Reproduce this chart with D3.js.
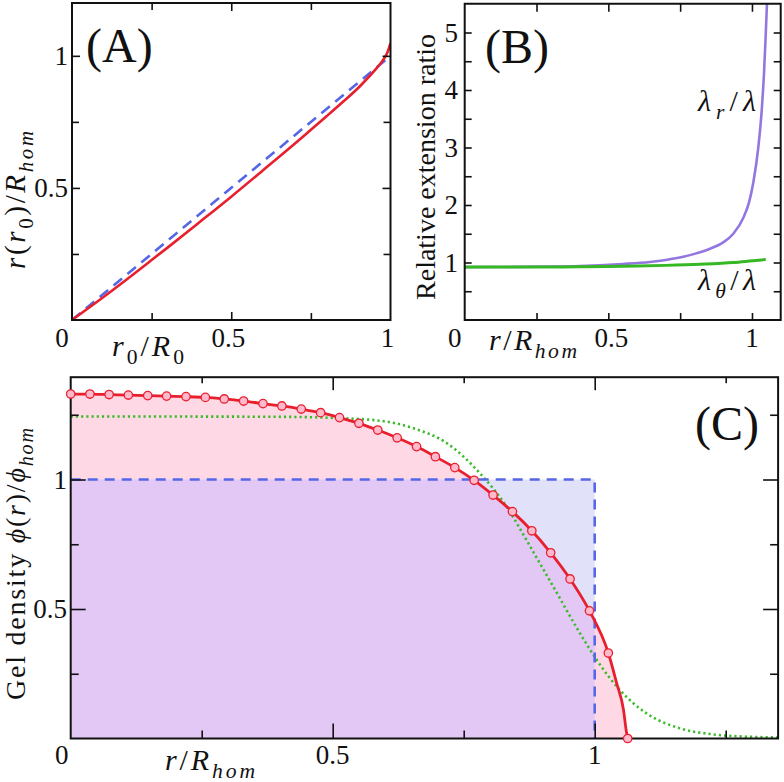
<!DOCTYPE html>
<html><head><meta charset="utf-8">
<script src="https://cdn.jsdelivr.net/npm/d3@7/dist/d3.min.js"></script>
</head><body style="margin:0">
<svg id="c" width="784" height="782"></svg>
<script>
// ---------- DATA ----------
// Panel A: r(r0)/R_hom vs r0/R0
const aRedX = [0, 0.1, 0.2, 0.25, 0.3, 0.4, 0.5, 0.6, 0.7, 0.75, 0.8, 0.85, 0.9, 0.93, 0.96, 0.98, 0.99, 1.0];
const aRedY = [0, 0.088, 0.18, 0.227, 0.274, 0.37, 0.467, 0.567, 0.668, 0.72, 0.772, 0.825, 0.88, 0.918, 0.958, 0.99, 1.012, 1.048];
const aBlueX = [0, 0.985];
const aBlueY = [0, 0.985];
const aXTicks = [0, 0.5, 1], aXMinor = [0.25, 0.75];
const aYTicks = [0.5, 1], aYMinor = [0.25, 0.75];

// Panel B: relative extension ratios
const bRadX = [0, 0.1, 0.2, 0.3, 0.4, 0.47, 0.55, 0.645, 0.7, 0.761, 0.8, 0.854, 0.9, 0.935, 0.97, 0.99, 1.005, 1.022, 1.034, 1.042, 1.048, 1.053];
const bRadY = [0.92, 0.921, 0.924, 0.93, 0.94, 0.953, 0.975, 1.01, 1.045, 1.10, 1.15, 1.24, 1.35, 1.50, 1.78, 2.05, 2.40, 3.00, 3.65, 4.30, 4.98, 5.6];
const bThX = [0, 0.2, 0.4, 0.5, 0.6, 0.7, 0.82, 0.935, 1.0, 1.048];
const bThY = [0.92, 0.92, 0.925, 0.93, 0.938, 0.95, 0.97, 1.0, 1.03, 1.052];
const bXTicks = [0, 0.5, 1], bXMinor = [0.25, 0.75];
const bYTicks = [1, 2, 3, 4, 5], bYMinor = [0.5, 1.5, 2.5, 3.5, 4.5];

// Panel C: gel density
const cMarkX = [0, 0.0367, 0.0733, 0.110, 0.147, 0.183, 0.220, 0.257, 0.293, 0.330, 0.367, 0.403, 0.440, 0.477, 0.513, 0.550, 0.586, 0.623, 0.660, 0.696, 0.733, 0.770, 0.806, 0.843, 0.880, 0.916, 0.953, 0.990, 1.026, 1.063];
const cMarkY = [1.330, 1.330, 1.328, 1.326, 1.324, 1.322, 1.320, 1.317, 1.311, 1.303, 1.293, 1.284, 1.272, 1.258, 1.239, 1.217, 1.191, 1.161, 1.127, 1.088, 1.046, 0.997, 0.940, 0.876, 0.802, 0.717, 0.616, 0.493, 0.330, 0.0];
const cTailX = [1.042, 1.055, 1.060];   // extra points of the red curve near its end
const cTailY = [0.213, 0.110, 0.033];
const cGreenX = [0, 0.2, 0.4, 0.5, 0.59, 0.654, 0.718, 0.781, 0.832, 0.877, 0.921, 0.972, 1.004, 1.048, 1.099, 1.163, 1.226, 1.29, 1.35];
const cGreenY = [1.243, 1.243, 1.242, 1.238, 1.227, 1.198, 1.14, 1.024, 0.895, 0.741, 0.586, 0.406, 0.303, 0.187, 0.097, 0.039, 0.016, 0.007, 0.004];
const cBlueX = [0, 1, 1];
const cBlueY = [1, 1, 0];
const cXTicks = [0, 0.5, 1], cXMinor = [0.25, 0.75, 1.25];
const cYTicks = [0.5, 1], cYMinor = [0.25, 0.75, 1.25];

// ---------- HELPERS ----------
let FONT = "serif";
const setFont = sel => {
  if (FONT.startsWith("style:")) sel.style("font-family", FONT.slice(6));
  else sel.attr("font-family", FONT);
  return sel;
};
const svg = d3.select("#c");
const zip = (xs, ys) => xs.map((x, i) => [x, ys[i]]);
const RED = "#e8202e", BLUE = "#5566e6", GREEN_DOT = "#3cbb2a", GREEN = "#35b824", PURPLE = "#9377e0";
const INK = "#111";

function mathText(g, x, y, parts, size, opts = {}) {
  const t = setFont(g.append("text").attr("x", x).attr("y", y).attr("font-size", size))
    .attr("fill", INK).attr("text-anchor", opts.anchor || "start");
  if (opts.rotate) t.attr("transform", `rotate(-90,${x},${y})`);
  if (opts.len) t.attr("textLength", opts.len).attr("lengthAdjust", "spacing");
  let shift = 0;
  parts.forEach(([s, st]) => {
    const sub = st.startsWith("s");
    const it = st.endsWith("i");
    const target = sub ? size * 0.28 : 0;
    const ts = setFont(t.append("tspan").text(s))
      .attr("font-style", it ? "italic" : "normal")
      .attr("font-size", sub ? size * 0.72 : size);
    if (target !== shift) { ts.attr("dy", target - shift); shift = target; }
  });
  return t;
}
function plain(g, x, y, s, size, anchor) {
  return setFont(g.append("text").attr("x", x).attr("y", y).attr("font-size", size))
    .attr("fill", INK).attr("text-anchor", anchor || "start").text(s);
}

function ticks(g, sx, sy, majX, minX, majY, minY, lenMaj, lenMin, topMaj, topMin) {
  const [x0, x1] = sx.range(), [y0, y1] = sy.range();
  const mk = (axisFn, scale, vals, len, tx, ty) => {
    const a = g.append("g").attr("transform", `translate(${tx},${ty})`)
      .call(axisFn(scale).tickValues(vals).tickSize(-len).tickFormat(""));
    a.attr("font-family", null).attr("font-size", null);
    a.select(".domain").remove();
    a.selectAll("text").remove();
    a.selectAll("line").attr("stroke", INK).attr("stroke-width", 1.6);
  };
  const inX = v => v.filter(d => sx(d) > x0 + 1 && sx(d) < x1 - 1);
  const inY = v => v.filter(d => sy(d) < y0 - 1 && sy(d) > y1 + 1);
  mk(d3.axisBottom, sx, inX(majX), lenMaj, 0, y0);
  mk(d3.axisBottom, sx, inX(minX), lenMin, 0, y0);
  mk(d3.axisTop, sx, inX(majX), topMaj, 0, y1);
  mk(d3.axisTop, sx, inX(minX), topMin, 0, y1);
  mk(d3.axisLeft, sy, inY(majY), lenMaj, x0, 0);
  mk(d3.axisLeft, sy, inY(minY), lenMin, x0, 0);
  mk(d3.axisRight, sy, inY(majY), lenMaj, x1, 0);
  mk(d3.axisRight, sy, inY(minY), lenMin, x1, 0);
  g.append("rect").attr("x", x0).attr("y", y1).attr("width", x1 - x0).attr("height", y0 - y1)
    .attr("fill", "none").attr("stroke", INK).attr("stroke-width", 2);
}

function clipFor(id, sx, sy) {
  const [x0, x1] = sx.range(), [y0, y1] = sy.range();
  svg.append("clipPath").attr("id", id).append("rect")
    .attr("x", x0).attr("y", y1).attr("width", x1 - x0).attr("height", y0 - y1);
}

const TF = 27; // tick font
const marks = svg.append("g");   // plot marks and ticks
const labels = svg.append("g");  // all texts

// ---------- PANEL A ----------
FONT = "serif";
{
  const sx = d3.scaleLinear().domain([0, 1]).range([72, 390.5]);
  const sy = d3.scaleLinear().domain([0, 1.2]).range([320, 3]);
  clipFor("clipA", sx, sy);
  const g = marks.append("g");
  const line = d3.line().x(d => sx(d[0])).y(d => sy(d[1])).curve(d3.curveMonotoneX);
  const pg = g.append("g").attr("clip-path", "url(#clipA)");
  pg.append("path").datum(zip(aBlueX, aBlueY)).attr("d", d3.line().x(d => sx(d[0])).y(d => sy(d[1])))
    .attr("fill", "none").attr("stroke", BLUE).attr("stroke-width", 2.6).attr("stroke-dasharray", "11,7");
  pg.append("path").datum(zip(aRedX, aRedY)).attr("d", line)
    .attr("fill", "none").attr("stroke", RED).attr("stroke-width", 2.6);
  ticks(g, sx, sy, aXTicks, aXMinor, aYTicks, aYMinor, 8, 7, 8, 7);
  const L = labels;
  aXTicks.forEach(v => plain(L, v === 0 ? sx(v) - 10 : sx(v) - 3, 347, v === 0 ? "0" : v === 1 ? "1" : "0.5", TF, "middle"));
  aYTicks.forEach(v => plain(L, 68, sy(v) + 9, v === 1 ? "1" : "0.5", TF, "end"));
  plain(L, 86, 62, "(A)", 48);
  mathText(L, 148, 356, [["r", "i"], ["0", "su"], ["/", "u"], ["R", "i"], ["0", "su"]], 30, { anchor: "middle", len: 72 });
  mathText(L, 25, 200, [["r", "i"], ["(", "u"], ["r", "i"], ["0", "su"], [")", "u"], ["/", "u"], ["R", "i"], ["hom", "si"]], 29, { anchor: "middle", rotate: true, len: 138 });
}

// ---------- PANEL B ----------
FONT = 'style:"Liberation Serif", serif';
{
  const sx = d3.scaleLinear().domain([0, 1.1]).range([464.7, 780.7]);
  const sy = d3.scaleLinear().domain([0, 5.5]).range([320, 3.75]);
  clipFor("clipB", sx, sy);
  const g = marks.append("g");
  const line = d3.line().x(d => sx(d[0])).y(d => sy(d[1])).curve(d3.curveMonotoneX);
  const pg = g.append("g").attr("clip-path", "url(#clipB)");
  pg.append("path").datum(zip(bRadX, bRadY)).attr("d", line)
    .attr("fill", "none").attr("stroke", PURPLE).attr("stroke-width", 2.6);
  pg.append("path").datum(zip(bThX, bThY)).attr("d", line)
    .attr("fill", "none").attr("stroke", GREEN).attr("stroke-width", 3);
  ticks(g, sx, sy, bXTicks, bXMinor, bYTicks, bYMinor, 7, 7, 8, 8);
  const L = labels;
  bXTicks.forEach(v => plain(L, v === 0 ? sx(v) - 10 : sx(v) + (v === 0.5 ? 3 : 0), 347, v === 0 ? "0" : v === 1 ? "1" : "0.5", TF, "middle"));
  bYTicks.forEach(v => plain(L, 458, sy(v) + 9, String(v), TF, "end"));
  plain(L, 485, 63, "(B)", 48);
  plain(L, 435, 167, "Relative extension ratio", 28, "middle").attr("transform", "rotate(-90,435,167)");
  mathText(L, 533, 350, [["r", "i"], ["/", "u"], ["R", "i"], ["hom", "si"]], 30, { anchor: "middle", len: 88 });
  mathText(L, 727, 111, [["λ", "i"], ["r", "si"], ["/", "u"], ["λ", "i"]], 30, { anchor: "middle", len: 58 });
  mathText(L, 727, 290, [["λ", "i"], ["θ", "si"], ["/", "u"], ["λ", "i"]], 30, { anchor: "middle", len: 58 });
}

// ---------- PANEL C ----------
FONT = "Times New Roman";
{
  const sx = d3.scaleLinear().domain([0, 1.35]).range([70.7, 778.1]);
  const sy = d3.scaleLinear().domain([0, 1.395]).range([738.5, 377.2]);
  clipFor("clipC", sx, sy);
  const g = marks.append("g");
  const redPts = zip(cMarkX.slice(0, -1), cMarkY.slice(0, -1))
    .concat(zip(cTailX, cTailY)).concat([[cMarkX[cMarkX.length - 1], cMarkY[cMarkY.length - 1]]]);
  const area = d3.area().x(d => sx(d[0])).y0(sy(0)).y1(d => sy(d[1])).curve(d3.curveMonotoneX);
  const line = d3.line().x(d => sx(d[0])).y(d => sy(d[1])).curve(d3.curveMonotoneX);
  const lin = d3.line().x(d => sx(d[0])).y(d => sy(d[1]));
  const pg = g.append("g").attr("clip-path", "url(#clipC)");
  svg.append("clipPath").attr("id", "clipBlue").append("path")
    .attr("d", lin([[0, 0]].concat(zip(cBlueX, cBlueY))) + "Z");
  pg.append("path").datum(redPts).attr("d", area).attr("fill", "#ffd8e6");
  pg.append("path").attr("d", lin([[0, 0]].concat(zip(cBlueX, cBlueY))) + "Z").attr("fill", "#e1e1fa");
  pg.append("path").datum(redPts).attr("d", area).attr("fill", "#e3c8f5").attr("clip-path", "url(#clipBlue)");
  pg.append("path").datum(zip(cGreenX, cGreenY)).attr("d", line)
    .attr("fill", "none").attr("stroke", GREEN_DOT).attr("stroke-width", 2.6).attr("stroke-dasharray", "2.2,3");
  pg.append("path").datum(zip(cBlueX, cBlueY)).attr("d", lin)
    .attr("fill", "none").attr("stroke", BLUE).attr("stroke-width", 2.6).attr("stroke-dasharray", "10,7");
  pg.append("path").datum(redPts).attr("d", line)
    .attr("fill", "none").attr("stroke", RED).attr("stroke-width", 2.8);
  ticks(g, sx, sy, cXTicks, cXMinor, cYTicks, cYMinor, 15, 8, 13, 6);
  g.selectAll("circle.m").data(zip(cMarkX, cMarkY)).join("circle").attr("class", "m")
    .attr("cx", d => sx(d[0])).attr("cy", d => sy(d[1])).attr("r", 4.2)
    .attr("fill", "#ffb8cc").attr("stroke", RED).attr("stroke-width", 1.3);
  const L = labels;
  cXTicks.forEach(v => plain(L, v === 0 ? sx(v) - 9 : sx(v), 764, v === 0 ? "0" : v === 1 ? "1" : "0.5", TF, "middle"));
  cYTicks.forEach(v => plain(L, 67, sy(v) + 9, v === 1 ? "1" : "0.5", TF, "end"));
  plain(L, 695, 440, "(C)", 48);
  mathText(L, 210, 770, [["r", "i"], ["/", "u"], ["R", "i"], ["hom", "si"]], 30, { anchor: "middle", len: 90 });
  mathText(L, 25, 564, [["Gel density ", "u"], ["ϕ", "i"], ["(", "u"], ["r", "i"], [")", "u"], ["/", "u"], ["ϕ", "i"], ["hom", "si"]], 28, { anchor: "middle", rotate: true, len: 272 });
}
</script></body></html>
